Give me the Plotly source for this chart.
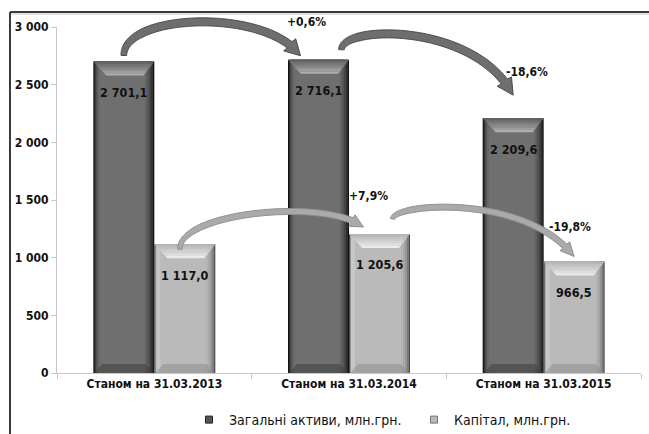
import plotly.graph_objects as go

# ---- data -------------------------------------------------------------
categories = ["Станом на 31.03.2013", "Станом на 31.03.2014", "Станом на 31.03.2015"]
assets = [2701.1, 2716.1, 2209.6]
capital = [1117.0, 1205.6, 966.5]
series_names = ["Загальні активи, млн.грн.", "Капітал, млн.грн."]
y_tickvals = [0, 500, 1000, 1500, 2000, 2500, 3000]
y_ticktext = ["0", "500", "1 000", "1 500", "2 000", "2 500", "3 000"]

# ---- geometry ---------------------------------------------------------
FIG_W, FIG_H = 649, 434
M_L, M_R, M_T, M_B = 57, 8, 27, 61
PW = FIG_W - M_L - M_R
PH = FIG_H - M_T - M_B
Y_MAX = 3000
CAT_PX = PW / len(categories)
BAR_PX = 61.0

FONT = "DejaVu Sans Condensed, Liberation Sans Narrow, Arial Narrow, sans-serif"


def px_x(i, dx=0.0):
    return M_L + (i + 0.5) * CAT_PX + dx


def px_y(v, dy=0.0):
    return M_T + PH * (1 - v / Y_MAX) + dy


def to_paper(x, y):
    return (x - M_L) / PW, (M_T + PH - y) / PH


def poly_path(points):
    pp = [to_paper(x, y) for x, y in points]
    return "M " + " L ".join(f"{a:.5f},{b:.5f}" for a, b in pp) + " Z"


def fmt_val(v):
    return f"{v:,.1f}".replace(",", " ").replace(".", ",")


def fmt_pct(a, b):
    return f"{(b / a - 1) * 100:+.1f}%".replace(".", ",")


fig = go.Figure()

# ---- bars with a layered horizontal shading ----------------------------
# (left inset px, right inset px, colour)
dark_layers = [(0, 0, "#111111"), (1, 1, "#2e2e2e"), (2, 3, "#454545"),
               (3, 5, "#555555"), (4, 7, "#636363"), (6, 9, "#6f6f6f")]
light_layers = [(0, 0, "#4a4a4a"), (1, 1, "#7a7a7a"), (1, 3, "#969696"),
                (2, 5, "#a8a8a8"), (3, 7, "#b3b3b3"), (5, 9, "#bababa"),
                (2, 55, "#c6c6c6")]

for values, base_off, layers in ((assets, -BAR_PX, dark_layers),
                                 (capital, 0.0, light_layers)):
    for li, ri, col in layers:
        fig.add_trace(go.Bar(
            x=categories, y=values,
            offset=(base_off + li) / CAT_PX,
            width=(BAR_PX - li - ri) / CAT_PX,
            marker=dict(color=col, line=dict(width=0)),
            showlegend=False, hoverinfo="skip",
        ))

# legend entries
fig.add_trace(go.Scatter(x=[None], y=[None], mode="markers", name=series_names[0],
                         marker=dict(symbol="square", size=7, color="#555555",
                                     line=dict(color="#222222", width=1))))
fig.add_trace(go.Scatter(x=[None], y=[None], mode="markers", name=series_names[1],
                         marker=dict(symbol="square", size=7, color="#b8b8b8",
                                     line=dict(color="#777777", width=1))))

shapes = []


def hex_mix(c1, c2, t):
    a = [int(c1[i:i + 2], 16) for i in (1, 3, 5)]
    b = [int(c2[i:i + 2], 16) for i in (1, 3, 5)]
    return "#" + "".join(f"{round(a[k] + (b[k] - a[k]) * t):02x}" for k in range(3))


# bevelled top and bottom of each bar
for values, dx, top_c, low_c, bot_c in ((assets, -BAR_PX / 2, "#5c5c5c", "#b4b4b4", "#3a3a3a"),
                                        (capital, BAR_PX / 2, "#b0b0b0", "#f0f0f0", "#8a8a8a")):
    for i, v in enumerate(values):
        x0 = px_x(i, dx - BAR_PX / 2)
        x1 = px_x(i, dx + BAR_PX / 2)
        yt = px_y(v)
        h, il, ir = 14.0, 13.0, 11.0
        steps = 6
        for k in range(steps):
            d0, d1 = h * k / steps, h * (k + 1) / steps
            pts = [(x0 + il * d0 / h, yt + d0), (x1 - ir * d0 / h, yt + d0),
                   (x1 - ir * d1 / h, yt + d1), (x0 + il * d1 / h, yt + d1)]
            shapes.append(dict(type="path", xref="paper", yref="paper", layer="above",
                               path=poly_path(pts),
                               fillcolor=hex_mix(top_c, low_c, (k + 0.5) / steps),
                               line=dict(width=0)))
        # bottom bevel
        yb = px_y(0)
        hb = 9.0
        pts = [(x0 + 1, yb), (x1 - 1, yb), (x1 - hb, yb - hb), (x0 + hb, yb - hb)]
        shapes.append(dict(type="path", xref="paper", yref="paper", layer="above",
                           path=poly_path(pts), fillcolor=bot_c, opacity=0.5,
                           line=dict(width=0)))


# ---- curved change arrows ------------------------------------------------
def bez(P, t):
    u = 1 - t
    return (u ** 3 * P[0][0] + 3 * u * u * t * P[1][0] + 3 * u * t * t * P[2][0] + t ** 3 * P[3][0],
            u ** 3 * P[0][1] + 3 * u * u * t * P[1][1] + 3 * u * t * t * P[2][1] + t ** 3 * P[3][1])


def arrow_path(P, w, head_len, head_w):
    tip = P[3]
    n = 120
    pts = [bez(P, k / n) for k in range(n + 1)]
    shaft = [p for p in pts if ((p[0] - tip[0]) ** 2 + (p[1] - tip[1]) ** 2) ** 0.5 >= head_len]
    left, right = [], []
    m = len(shaft)
    for k, p in enumerate(shaft):
        a = shaft[max(k - 1, 0)]
        b = shaft[min(k + 1, m - 1)]
        dxv, dyv = b[0] - a[0], b[1] - a[1]
        ln = (dxv ** 2 + dyv ** 2) ** 0.5 or 1
        nx, ny = -dyv / ln, dxv / ln
        s = k / (m - 1)
        wt = w * (0.7 + 0.3 * min(1.0, s / 0.25))
        left.append((p[0] + nx * wt / 2, p[1] + ny * wt / 2))
        right.append((p[0] - nx * wt / 2, p[1] - ny * wt / 2))
    base = shaft[-1]
    dxv, dyv = tip[0] - base[0], tip[1] - base[1]
    ln = (dxv ** 2 + dyv ** 2) ** 0.5
    nx, ny = -dyv / ln, dxv / ln
    head = [(base[0] + nx * head_w / 2, base[1] + ny * head_w / 2), tip,
            (base[0] - nx * head_w / 2, base[1] - ny * head_w / 2)]
    return left + head + right[::-1]


annotations = []

# (values, from index, to index, bar side offset, tail offset, tip offset,
#  control offsets, label offset, style)
arrow_specs = [
    (assets, 0, 1, -BAR_PX / 2, (0, -6), (-18, -4), (0, -42), (-35, -48), (6, -34), "dark"),
    (assets, 1, 2, -BAR_PX / 2, (23, -10), (0, -23), (0, -25), (-38, -73), (14, -23), "dark"),
    (capital, 0, 1, BAR_PX / 2, (-5, 5), (-16, -7), (0, -37), (-38, -29), (5, -31), "light"),
    (capital, 1, 2, BAR_PX / 2, (13, -15), (0, -5), (2, -16), (-49, -63), (-4, -30), "light"),
]
styles = {
    "dark": dict(w=8.0, hl=15.0, hw=17.0, fill="#6e6e6e", line="#4a4a4a"),
    "light": dict(w=6.0, hl=12.0, hw=13.0, fill="#aaaaaa", line="#8e8e8e"),
}

for values, i0, i1, side, t_off, p_off, c1_off, c2_off, lab_off, st in arrow_specs:
    s = styles[st]
    tail = (px_x(i0, side + t_off[0]), px_y(values[i0], t_off[1]))
    tip = (px_x(i1, side + p_off[0]), px_y(values[i1], p_off[1]))
    c1 = (tail[0] + c1_off[0], tail[1] + c1_off[1])
    c2 = (tip[0] + c2_off[0], tip[1] + c2_off[1])
    poly = arrow_path([tail, c1, c2, tip], s["w"], s["hl"], s["hw"])
    shapes.append(dict(type="path", xref="paper", yref="paper", layer="above",
                       path=poly_path(poly), fillcolor=s["fill"],
                       line=dict(color=s["line"], width=1)))
    lx, ly = to_paper(tip[0] + lab_off[0], tip[1] + lab_off[1])
    annotations.append(dict(xref="paper", yref="paper", x=lx, y=ly,
                            text=f"<b>{fmt_pct(values[i0], values[i1])}</b>", showarrow=False,
                            xanchor="center", yanchor="middle",
                            font=dict(family=FONT, size=12, color="#111111")))

# ---- value labels -------------------------------------------------------
for values, dx in ((assets, -BAR_PX / 2), (capital, BAR_PX / 2)):
    for i, v in enumerate(values):
        annotations.append(dict(x=categories[i], y=v, xref="x", yref="y",
                                xshift=dx, yshift=-31, text=f"<b>{fmt_val(v)}</b>",
                                showarrow=False, xanchor="center", yanchor="middle",
                                font=dict(family=FONT, size=12.5, color="#111111")))

# ---- outer frame ---------------------------------------------------------
fx, fy = to_paper(10, 12)
_, fy2 = to_paper(10, 14)
shapes.append(dict(type="line", xref="paper", yref="paper", x0=fx, x1=1.2, y0=fy2, y1=fy2,
                   line=dict(color="#c4c4c4", width=1)))
shapes.append(dict(type="line", xref="paper", yref="paper", x0=fx, x1=1.2, y0=fy, y1=fy,
                   line=dict(color="#3a3a3a", width=2)))
shapes.append(dict(type="line", xref="paper", yref="paper", x0=fx, x1=fx, y0=fy, y1=-0.3,
                   line=dict(color="#3a3a3a", width=2)))

_, leg_y = to_paper(0, 420)
leg_x, _ = to_paper(189, 0)

bold_tick = dict(family=FONT, size=12, color="#111111", weight="bold")

fig.update_layout(
    width=FIG_W, height=FIG_H,
    margin=dict(l=M_L, r=M_R, t=M_T, b=M_B, autoexpand=False),
    paper_bgcolor="white", plot_bgcolor="white",
    barmode="overlay",
    font=dict(family=FONT, size=12, color="#111111"),
    xaxis=dict(type="category", categoryorder="array", categoryarray=categories,
               range=[-0.5, len(categories) - 0.5],
               showgrid=False, zeroline=False, showline=True, linecolor="#c8c8c8",
               linewidth=1, ticks="outside", tickson="boundaries", ticklen=5,
               tickcolor="#c8c8c8", automargin=False, tickfont=bold_tick),
    yaxis=dict(range=[0, Y_MAX], tickvals=y_tickvals, ticktext=y_ticktext,
               showgrid=False, zeroline=False, showline=True, linecolor="#c8c8c8",
               linewidth=1, ticks="outside", ticklen=5, tickcolor="#c8c8c8",
               automargin=False, tickfont=bold_tick),
    legend=dict(orientation="h", x=leg_x, y=leg_y, xanchor="left", yanchor="middle",
                entrywidth=180, font=dict(family=FONT, size=14, color="#111111"),
                bgcolor="rgba(0,0,0,0)"),
    shapes=shapes,
    annotations=annotations,
    showlegend=True,
)

fig.write_html("out.html")
